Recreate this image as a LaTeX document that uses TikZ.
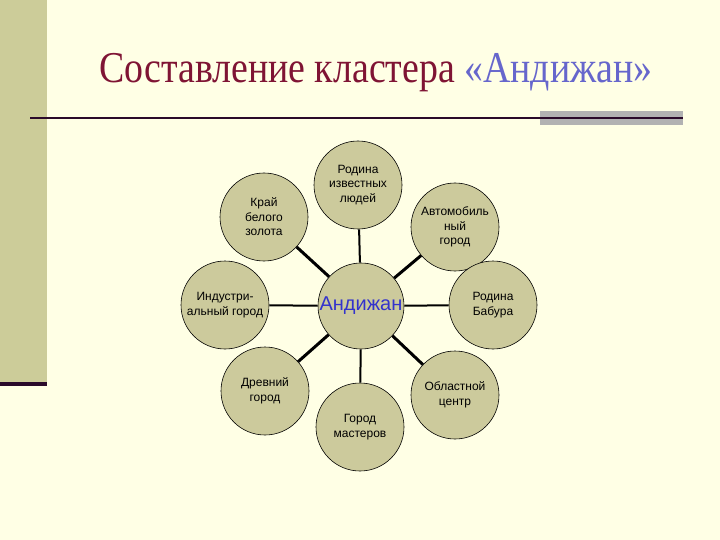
\documentclass[tikz,border=0pt]{standalone}
\usepackage{fontspec}
\setmainfont{Liberation Serif}
\newfontfamily\arialf{Liberation Sans}
\definecolor{bgc}{HTML}{FFFFE5}
\definecolor{barc}{HTML}{CCCC99}
\definecolor{circc}{HTML}{CCCA9C}
\definecolor{titlered}{HTML}{7F1434}
\definecolor{titleblue}{HTML}{6666CC}
\definecolor{lined}{HTML}{2A0A2A}
\definecolor{grayb}{HTML}{B2B2B2}
\definecolor{centerblue}{HTML}{3333CC}
\tikzset{
  bubble/.style={circle, draw=black, line width=0.6pt, fill=circc, minimum size=88pt, inner sep=0pt, align=center, font=\arialf\fontsize{12}{14.5}\selectfont},
  thin link/.style={line width=2pt},
  thick link/.style={line width=3pt}
}
\begin{document}
\begin{tikzpicture}[x=1pt,y=-1pt]
\fill[bgc] (0,0) rectangle (720,540);
\useasboundingbox (0,0) rectangle (720,540);
\fill[barc] (0,0) rectangle (47,382);
\fill[lined] (0,382) rectangle (47,385.5);
\fill[grayb] (540,111) rectangle (683,125);
\fill[lined] (30,117) rectangle (683,119.5);
\node[anchor=base, inner sep=0pt, xscale=0.86, font=\fontsize{44}{48}\selectfont] (title) at (376,83) {\textcolor{titlered}{Составление кластера} \textcolor{titleblue}{«Андижан»}};
\node[bubble, minimum size=86pt, font=\arialf\fontsize{20}{24}\selectfont, text=centerblue] (c) at (361,306) {Андижан};
\node[bubble] (n1) at (358,185) {Родина\\известных\\людей};
\node[bubble] (n2) at (264,217) {Край\\белого\\золота};
\node[bubble] (n3) at (455,227) {Автомобиль\\ный\\город};
\node[bubble] (n4) at (225,305) {Индустри-\\альный город};
\node[bubble] (n5) at (493,305) {Родина\\Бабура};
\node[bubble] (n6) at (265,391) {Древний\\город};
\node[bubble] (n7) at (360,427) {Город\\мастеров};
\node[bubble] (n8) at (455,395) {Областной\\центр};
\draw[thin link] (c) -- (n1);
\draw[thin link] (c) -- (n4);
\draw[thin link] (c) -- (n5);
\draw[thin link] (c) -- (n7);
\draw[thick link] (c) -- (n2);
\draw[thick link] (c) -- (n3);
\draw[thick link] (c) -- (n6);
\draw[thick link] (c) -- (n8);
\end{tikzpicture}
\end{document}
